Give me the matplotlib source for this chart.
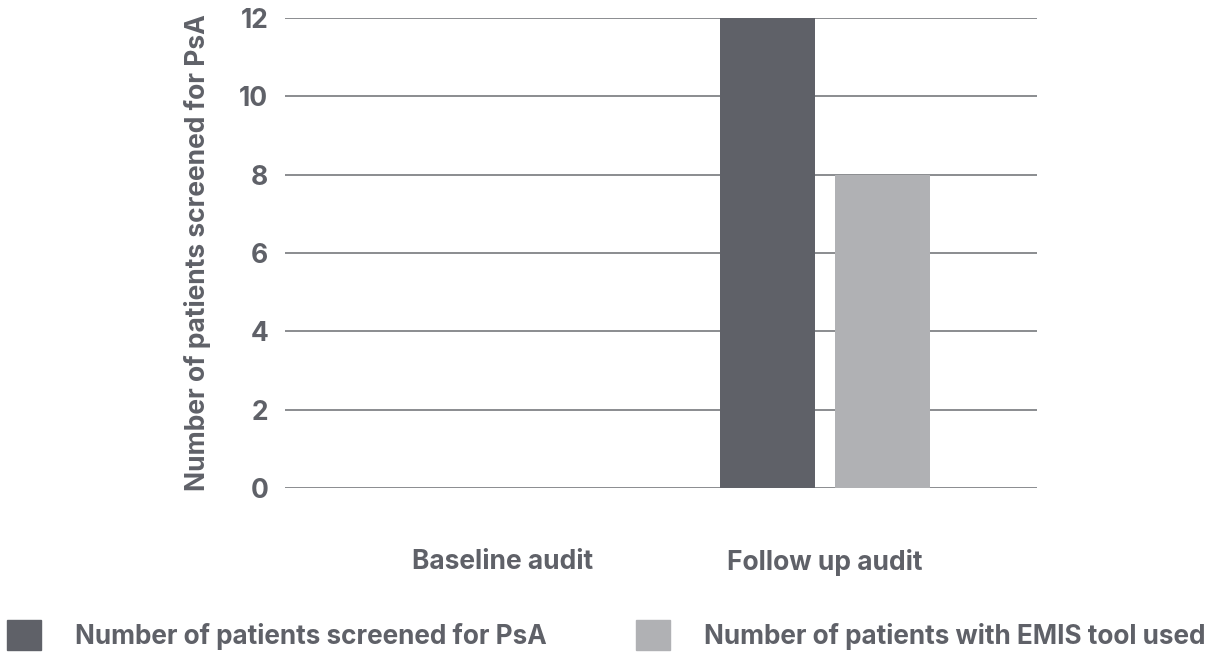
import numpy as np
import matplotlib.pyplot as plt
from matplotlib.patches import Patch

plt.rcParams['font.family'] = ['Inter', 'DejaVu Sans']
plt.rcParams['font.weight'] = 'bold'
plt.rcParams['axes.labelweight'] = 'bold'

categories = ['Baseline audit', 'Follow up audit']
screened = [0, 12]
emis_used = [0, 8]
series_names = ['Number of patients screened for PsA', 'Number of patients with EMIS tool used']
yticks = [0, 2, 4, 6, 8, 10, 12]

txt_col = '#5f6168'
dark = '#5f6168'
light = '#b0b1b4'

fig = plt.figure(figsize=(12.12, 6.53), dpi=100)
ax = fig.add_axes([285/1212, 1-488/653, (1037-285)/1212, (488-18)/653])

x = np.arange(len(categories))
w = 0.295
off = 0.179
ax.bar(x - off, screened, w, color=dark, zorder=3)
ax.bar(x + off, emis_used, w, color=light, zorder=3)

ax.set_xlim(-0.677, 1.658)
ax.set_ylim(0, 12)
ax.set_yticks(yticks)
ax.yaxis.grid(True, color='#6b6d72', linewidth=1.1, zorder=0)
for s in ax.spines.values():
    s.set_visible(False)
ax.tick_params(axis='both', length=0, labelcolor=txt_col)
ax.tick_params(axis='y', labelsize=19, pad=12)
ax.set_xticks(x)
ax.set_xticklabels(categories, fontsize=19, fontweight='bold')
for t in ax.get_yticklabels():
    t.set_fontweight('bold')
ax.tick_params(axis='x', pad=44)
ax.set_ylabel('Number of patients screened for PsA', fontsize=19, color=txt_col, labelpad=20,
              fontweight='bold')

handles = [Patch(color=dark), Patch(color=light)]
leg = fig.legend(handles, series_names, loc='lower left', bbox_to_anchor=(0.004, 0.0), ncol=2,
                 frameon=False, fontsize=18.8, labelcolor=txt_col, handlelength=1.3, handleheight=1.42,
                 handletextpad=1.3, columnspacing=3.4, borderaxespad=0.0, borderpad=0.1)
for t in leg.get_texts():
    t.set_fontweight('bold')

fig.savefig('out.png', dpi=100)
